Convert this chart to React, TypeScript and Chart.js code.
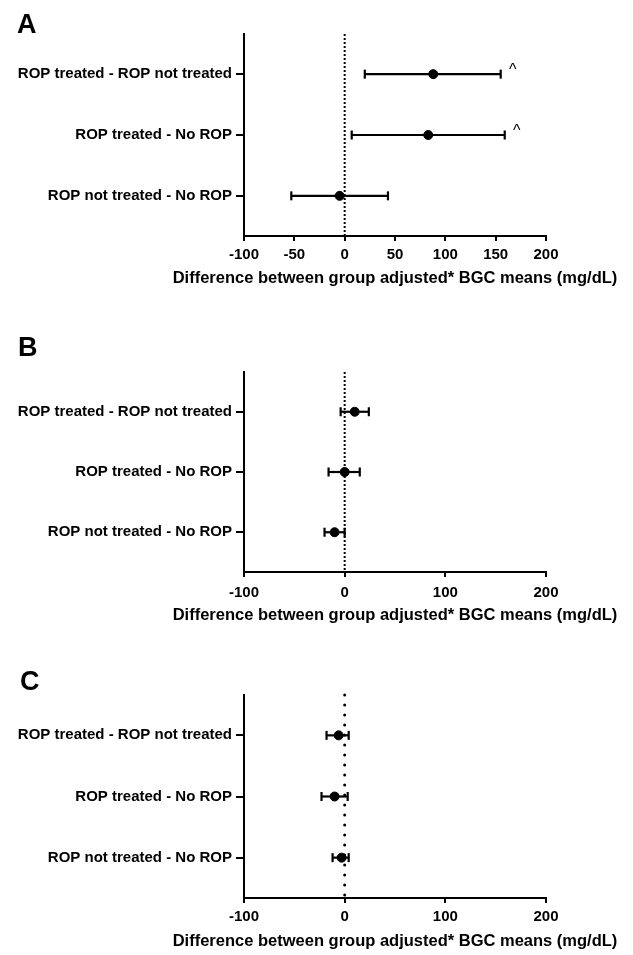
import React, { useEffect, useRef } from "react";
import { Chart, registerables } from "chart.js";

Chart.register(...registerables);

// ---- data ----
const categories = [
  "ROP treated - ROP not treated",
  "ROP treated - No ROP",
  "ROP not treated - No ROP",
];
const meanA = [88, 83, -5];
const lowA = [20, 7, -53];
const highA = [155, 159, 43];
const sigA = [true, true, false];

const meanB = [10, 0, -10];
const lowB = [-4, -16, -20];
const highB = [24, 15, 0];
const sigB = [false, false, false];

const meanC = [-6, -10, -3];
const lowC = [-18, -23, -12];
const highC = [4, 3, 4];
const sigC = [false, false, false];

const xTicksA = [-100, -50, 0, 50, 100, 150, 200];
const xTicksBC = [-100, 0, 100, 200];
const axisTitle = "Difference between group adjusted* BGC means (mg/dL)";
const sigMark = "^";

const FONT = '"Liberation Sans", Arial, Helvetica, sans-serif';

type PanelProps = {
  letter: string;
  mean: number[];
  low: number[];
  high: number[];
  sig: boolean[];
  xTicks: number[];
  top: number;
  height: number;
  padTop: number;
  xAxisHeight: number;
  titleOffset: number;
  tickPad: number;
  letterX: number;
  letterBaseline: number;
  bigDots: boolean;
};

function Panel(p: PanelProps) {
  const ref = useRef<HTMLCanvasElement | null>(null);
  useEffect(() => {
    if (!ref.current) return;
    const rows = categories.map((_, i) => i);
    const errDatasets = rows.map((i) => ({
      label: "ci" + i,
      data: [
        { x: p.low[i], y: i },
        { x: p.high[i], y: i },
      ],
      showLine: true,
      borderColor: "#000",
      backgroundColor: "#000",
      borderWidth: 2.2,
      pointStyle: "line" as const,
      pointRotation: 90,
      pointRadius: 4.5,
      pointBorderWidth: 2.2,
      pointBorderColor: "#000",
    }));
    const meanDataset = {
      label: "mean",
      data: rows.map((i) => ({ x: p.mean[i], y: i })),
      pointRadius: 4.5,
      pointBorderWidth: 1,
      pointBackgroundColor: "#000",
      pointBorderColor: "#000",
      showLine: false,
    };

    const extras = {
      id: "extras",
      beforeDatasetsDraw(chart: any) {
        const { ctx, chartArea, scales } = chart;
        const x0 = scales.x.getPixelForValue(0);
        ctx.save();
        ctx.strokeStyle = "#000";
        if (p.bigDots) {
          ctx.lineWidth = 3;
          ctx.lineCap = "round";
          ctx.setLineDash([0, 10]);
        } else {
          ctx.lineWidth = 2;
          ctx.lineCap = "butt";
          ctx.setLineDash([2, 2]);
        }
        ctx.beginPath();
        ctx.moveTo(x0, chartArea.top);
        ctx.lineTo(x0, chartArea.bottom);
        ctx.stroke();
        ctx.restore();
      },
      afterDatasetsDraw(chart: any) {
        const { ctx, scales } = chart;
        ctx.save();
        ctx.fillStyle = "#000";
        ctx.font = "16px " + FONT;
        ctx.textAlign = "center";
        ctx.textBaseline = "alphabetic";
        p.sig.forEach((s, i) => {
          if (!s) return;
          const x = scales.x.getPixelForValue(p.high[i]) + 12;
          const y = scales.y.getPixelForValue(i) + 1;
          ctx.fillText(sigMark, x, y);
        });
        ctx.restore();
      },
      afterDraw(chart: any) {
        const { ctx, chartArea } = chart;
        ctx.save();
        ctx.fillStyle = "#000";
        // panel letter
        ctx.font = "bold 27px " + FONT;
        ctx.textAlign = "left";
        ctx.textBaseline = "alphabetic";
        ctx.fillText(p.letter, p.letterX, p.letterBaseline);
        // x-axis title
        ctx.font = "bold 16.5px " + FONT;
        ctx.textAlign = "center";
        ctx.textBaseline = "middle";
        ctx.fillText(axisTitle, (chartArea.left + chartArea.right) / 2, chartArea.bottom + p.titleOffset);
        ctx.restore();
      },
    };

    const chart = new Chart(ref.current, {
      type: "scatter",
      data: { datasets: [meanDataset as any, ...(errDatasets as any[])] },
      options: {
        animation: false,
        responsive: false,
        maintainAspectRatio: false,
        events: [],
        layout: { padding: { top: p.padTop, left: 0, right: 87, bottom: 0 } },
        plugins: {
          legend: { display: false },
          tooltip: { enabled: false },
          title: { display: false },
        },
        scales: {
          x: {
            type: "linear",
            min: -100,
            max: 200,
            afterBuildTicks: (scale: any) => {
              scale.ticks = p.xTicks.map((v) => ({ value: v }));
            },
            afterFit: (scale: any) => {
              scale.height = p.xAxisHeight;
            },
            grid: {
              display: true,
              drawOnChartArea: false,
              drawTicks: true,
              tickLength: 5,
              color: "#000",
              lineWidth: 2,
            },
            border: { display: true, color: "#000", width: 2 },
            ticks: {
              color: "#000",
              padding: p.tickPad,
              maxRotation: 0,
              autoSkip: false,
              font: { family: FONT, size: 15, weight: "bold" },
            },
            title: { display: false },
          },
          y: {
            type: "linear",
            reverse: true,
            min: -0.66,
            max: 2.66,
            afterBuildTicks: (scale: any) => {
              scale.ticks = categories.map((_, i) => ({ value: i }));
            },
            afterFit: (scale: any) => {
              scale.width = 244;
            },
            grid: {
              display: true,
              drawOnChartArea: false,
              drawTicks: true,
              tickLength: 8,
              color: "#000",
              lineWidth: 2,
            },
            border: { display: true, color: "#000", width: 2 },
            ticks: {
              color: "#000",
              padding: 4,
              autoSkip: false,
              callback: (v: any) => categories[v as number] ?? "",
              font: { family: FONT, size: 15, weight: "bold" },
            },
          },
        },
      },
      plugins: [extras],
    });
    return () => chart.destroy();
  }, []);
  return (
    <canvas
      ref={ref}
      width={633}
      height={p.height}
      style={{ position: "absolute", left: 0, top: p.top, width: 633, height: p.height }}
    />
  );
}

export default function App() {
  return (
    <div style={{ position: "absolute", left: 0, top: 0, width: 633, height: 955, background: "#fff" }}>
      <Panel
        letter="A"
        mean={meanA}
        low={lowA}
        high={highA}
        sig={sigA}
        xTicks={xTicksA}
        top={0}
        height={300}
        padTop={34}
        xAxisHeight={64}
        titleOffset={42}
        tickPad={5}
        letterX={17}
        letterBaseline={33}
        bigDots={false}
      />
      <Panel
        letter="B"
        mean={meanB}
        low={lowB}
        high={highB}
        sig={sigB}
        xTicks={xTicksBC}
        top={300}
        height={330}
        padTop={72}
        xAxisHeight={58}
        titleOffset={43}
        tickPad={7}
        letterX={18}
        letterBaseline={56}
        bigDots={false}
      />
      <Panel
        letter="C"
        mean={meanC}
        low={lowC}
        high={highC}
        sig={sigC}
        xTicks={xTicksBC}
        top={630}
        height={325}
        padTop={65}
        xAxisHeight={57}
        titleOffset={43}
        tickPad={5}
        letterX={20}
        letterBaseline={60}
        bigDots={true}
      />
    </div>
  );
}
